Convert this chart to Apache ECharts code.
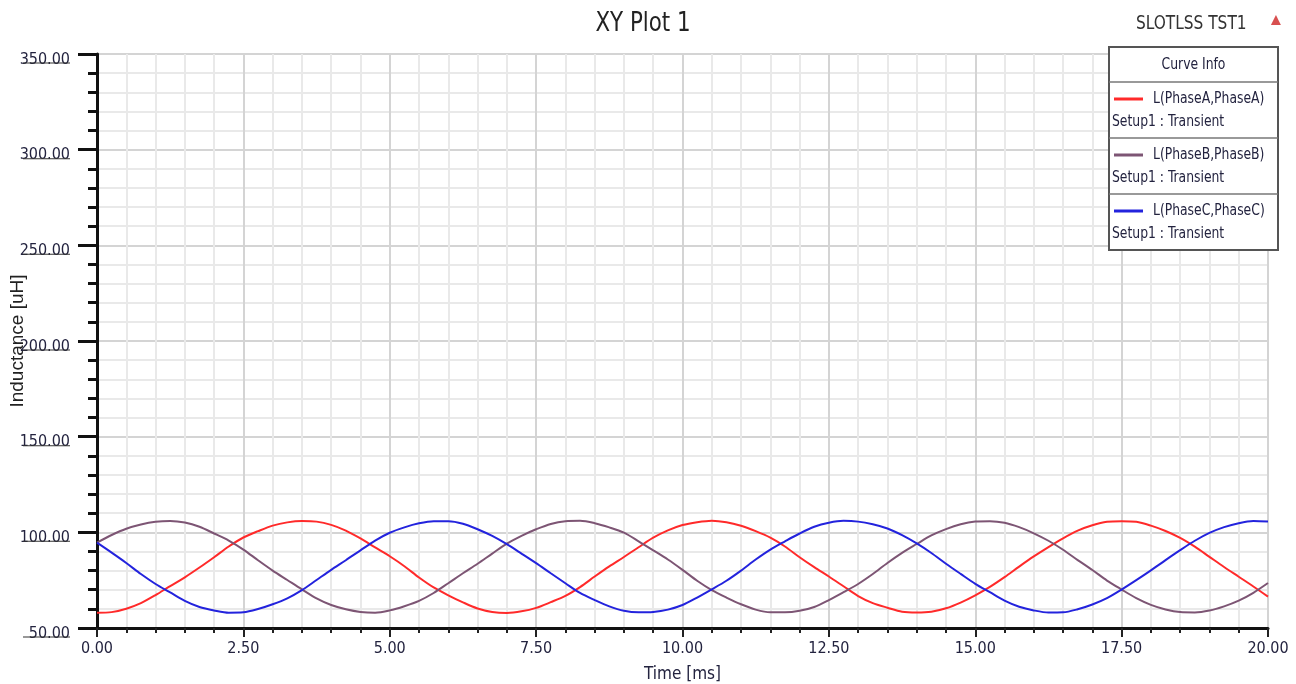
<!DOCTYPE html>
<html>
<head>
<meta charset="utf-8">
<script src="https://cdn.jsdelivr.net/npm/echarts@6/dist/echarts.min.js"></script>
<style>
  html, body { margin: 0; padding: 0; background: #fff; }
  #chart { width: 1296px; height: 684px; }
</style>
</head>
<body>
<div id="chart"></div>
<script>
// time samples [ms]
var timeMs = [0, 0.25, 0.5, 0.75, 1, 1.25, 1.5, 1.75, 2, 2.25, 2.5, 2.75, 3, 3.25, 3.5, 3.75,
  4, 4.25, 4.5, 4.75, 5, 5.25, 5.5, 5.75, 6, 6.25, 6.5, 6.75, 7, 7.25, 7.5, 7.75,
  8, 8.25, 8.5, 8.75, 9, 9.25, 9.5, 9.75, 10, 10.25, 10.5, 10.75, 11, 11.25, 11.5, 11.75,
  12, 12.25, 12.5, 12.75, 13, 13.25, 13.5, 13.75, 14, 14.25, 14.5, 14.75, 15, 15.25, 15.5, 15.75,
  16, 16.25, 16.5, 16.75, 17, 17.25, 17.5, 17.75, 18, 18.25, 18.5, 18.75, 19, 19.25, 19.5, 19.75, 20];

// L(PhaseA,PhaseA) [uH]
var phaseA = [58.0, 58.3, 60.1, 63.0, 67.2, 71.9, 76.5, 81.6, 87.0, 92.6, 97.3, 100.6, 103.5, 105.2, 105.9, 105.6,
  103.9, 100.9, 96.8, 92.1, 87.5, 82.3, 76.4, 71.2, 67.1, 63.4, 60.2, 58.4,
  57.9, 58.7, 60.5, 63.5, 66.8, 71.4, 76.9, 82.2, 87.1, 92.2, 97.2, 101.0, 103.8, 105.3, 106.1, 105.3,
  103.4, 100.6, 97.2, 92.6, 87.0, 81.8, 76.9, 71.8, 66.7, 63.0, 60.6, 58.5,
  58.1, 58.5, 60.3, 63.3, 67.1, 71.5, 76.6, 82.1, 87.4, 92.3, 96.9, 100.9, 103.7, 105.5, 105.8, 105.5,
  103.5, 100.7, 97.1, 92.5, 87.2, 81.9, 76.8, 71.7, 66.4];

// L(PhaseB,PhaseB) [uH]
var phaseB = [94.6, 98.6, 101.9, 104.1, 105.5, 105.9, 105.1, 102.9, 99.4, 95.7, 91.0, 85.4, 80.0, 75.1, 70.2, 65.5,
  62.0, 59.8, 58.4, 58.0, 59.2, 61.4, 64.2, 68.3, 73.4, 78.6, 83.6, 88.9,
  94.1, 98.2, 101.6, 104.4, 105.8, 106.0, 104.8, 102.6, 99.8, 95.3, 90.6, 85.8, 80.4, 74.7, 69.8, 65.9,
  62.4, 59.6, 58.2, 58.2, 59.0, 61.0, 64.6, 68.7, 73.0, 78.2, 84.0, 89.3,
  93.9, 98.4, 101.7, 104.2, 105.6, 105.8, 105.0, 102.7, 99.5, 95.6, 90.9, 85.5, 80.3, 74.8, 70.1, 65.6,
  62.1, 59.7, 58.3, 58.1, 59.1, 61.3, 64.3, 68.4, 73.5];

// L(PhaseC,PhaseC) [uH]
var phaseC = [94.6, 89.4, 84.0, 78.2, 73.0, 68.6, 64.2, 61.0, 59.2, 58.0, 58.2, 59.9, 62.4, 65.5, 69.8, 75.1,
  80.4, 85.4, 90.6, 95.7, 99.8, 102.6, 104.7, 105.8, 105.8, 104.5, 101.6, 98.1,
  93.8, 88.9, 83.9, 78.6, 73.4, 68.3, 64.6, 61.3, 59.0, 58.2, 58.4, 59.6, 62.0, 65.9, 70.2, 74.7,
  80.0, 85.8, 91.0, 95.3, 99.4, 102.9, 105.0, 106.0, 105.6, 104.2, 102.0, 98.5,
  94.2, 89.2, 83.6, 78.3, 73.1, 68.7, 64.3, 61.1, 59.2, 58.1, 58.2, 59.8, 62.3, 65.6, 70.1, 75.0,
  80.1, 85.5, 90.7, 95.6, 99.7, 102.7, 104.8, 105.9, 105.6];

var curveNames = ['L(PhaseA,PhaseA)', 'L(PhaseB,PhaseB)', 'L(PhaseC,PhaseC)'];
var curveColors = ['#ff2a2a', '#7d5574', '#2323dd'];
var curveSetup = 'Setup1 : Transient';

var narrow = "'Liberation Sans Narrow', 'DejaVu Sans Condensed', sans-serif";
var textColor = '#23233f';

function pairs(vals) {
  return vals.map(function (v, i) { return [timeMs[i], v]; });
}

var chart = echarts.init(document.getElementById('chart'));

// legend box ("Curve Info") drawn as graphics, text squeezed a bit like the original
var boxX = 1109, boxY = 47, boxW = 169, headH = 35, rowH = 56;
var squeeze = 0.86;
var graphics = [
  {
    type: 'rect', z: 100,
    shape: { x: boxX, y: boxY, width: boxW, height: headH + rowH * 3 },
    style: { fill: '#fff', stroke: '#555', lineWidth: 2 }
  },
  {
    type: 'text', z: 101, x: boxX + boxW / 2, y: boxY + headH / 2, scaleX: squeeze,
    style: { text: 'Curve Info', fill: textColor, font: '16px ' + narrow, align: 'center', verticalAlign: 'middle' }
  }
];
curveNames.forEach(function (name, i) {
  var top = boxY + headH + rowH * i;
  graphics.push({
    type: 'line', z: 101,
    shape: { x1: boxX, y1: top, x2: boxX + boxW, y2: top },
    style: { stroke: '#777', lineWidth: 1.5 }
  });
  graphics.push({
    type: 'line', z: 101,
    shape: { x1: boxX + 5, y1: top + 17, x2: boxX + 34, y2: top + 17 },
    style: { stroke: curveColors[i], lineWidth: 3 }
  });
  graphics.push({
    type: 'text', z: 101, x: boxX + 44, y: top + 17, scaleX: squeeze,
    style: { text: name, fill: textColor, font: '16px ' + narrow, verticalAlign: 'middle' }
  });
  graphics.push({
    type: 'text', z: 101, x: boxX + 3, y: top + 40, scaleX: squeeze,
    style: { text: curveSetup, fill: textColor, font: '16px ' + narrow, verticalAlign: 'middle' }
  });
});
graphics.push({
  type: 'text', z: 101, x: 1136, y: 24, scaleX: 0.9,
  style: { text: 'SLOTLSS TST1', fill: '#333', font: '19px ' + narrow, verticalAlign: 'middle' }
});
graphics.push({
  type: 'text', z: 101, x: 1276, y: 20,
  style: { text: '\u25B2', fill: '#d85050', font: '17px sans-serif', align: 'center', verticalAlign: 'middle' }
});
graphics.push({
  type: 'text', z: 101, x: 643, y: 24, scaleX: 0.88,
  style: { text: 'XY Plot 1', fill: '#222', font: '27px ' + narrow, align: 'center', verticalAlign: 'middle' }
});

var option = {
  animation: false,
  backgroundColor: '#fff',
  grid: {
    left: 97, right: 28, top: 54, bottom: 56,
    outerBoundsMode: 'none',
    containLabel: false,
    show: true, borderColor: '#333', borderWidth: 2
  },
  xAxis: {
    type: 'value',
    min: 0, max: 20, interval: 2.5,
    name: 'Time [ms]',
    nameLocation: 'middle',
    nameGap: 38,
    nameMoveOverlap: false,
    nameTextStyle: { fontFamily: narrow, fontSize: 17, color: textColor },
    axisLine: { lineStyle: { color: '#111', width: 3 } },
    axisTick: { length: 9, lineStyle: { color: '#222', width: 2 } },
    minorTick: { show: true, splitNumber: 5, length: 5, lineStyle: { color: '#222', width: 2 } },
    axisLabel: {
      margin: 13,
      fontFamily: narrow, fontSize: 16, color: textColor,
      formatter: function (v) { return v.toFixed(2); }
    },
    splitLine: { show: true, lineStyle: { color: '#d4d4d4', width: 2 } },
    minorSplitLine: { show: true, lineStyle: { color: '#e9e9e9', width: 2 } }
  },
  yAxis: {
    type: 'value',
    min: 50, max: 350, interval: 50,
    name: 'Inductance [uH]',
    nameLocation: 'middle',
    nameGap: 70,
    nameMoveOverlap: false,
    nameTextStyle: { fontFamily: 'Liberation Sans, Arial, sans-serif', fontSize: 19, color: '#222' },
    axisLine: { show: true, lineStyle: { color: '#111', width: 3 } },
    axisTick: { show: true, length: 19, lineStyle: { color: '#111', width: 3 } },
    minorTick: { show: true, splitNumber: 5, length: 9, lineStyle: { color: '#111', width: 3 } },
    axisLabel: {
      margin: 27,
      formatter: function (v) { return '{a|' + v.toFixed(2) + '}\n{u|}'; },
      rich: {
        a: { fontFamily: narrow, fontSize: 16, color: textColor, lineHeight: 18, padding: [14, 0, 0, 0] },
        u: { width: 47, height: 1, backgroundColor: '#333', lineHeight: 3 }
      }
    },
    splitLine: { show: true, lineStyle: { color: '#d4d4d4', width: 2 } },
    minorSplitLine: { show: true, lineStyle: { color: '#e9e9e9', width: 2 } }
  },
  series: [
    { name: curveNames[0], type: 'line', data: pairs(phaseA), showSymbol: false, smooth: 0.3, color: curveColors[0], lineStyle: { width: 2 } },
    { name: curveNames[1], type: 'line', data: pairs(phaseB), showSymbol: false, smooth: 0.3, color: curveColors[1], lineStyle: { width: 2 } },
    { name: curveNames[2], type: 'line', data: pairs(phaseC), showSymbol: false, smooth: 0.3, color: curveColors[2], lineStyle: { width: 2 } }
  ],
  graphic: graphics
};

chart.setOption(option);
</script>
</body>
</html>
